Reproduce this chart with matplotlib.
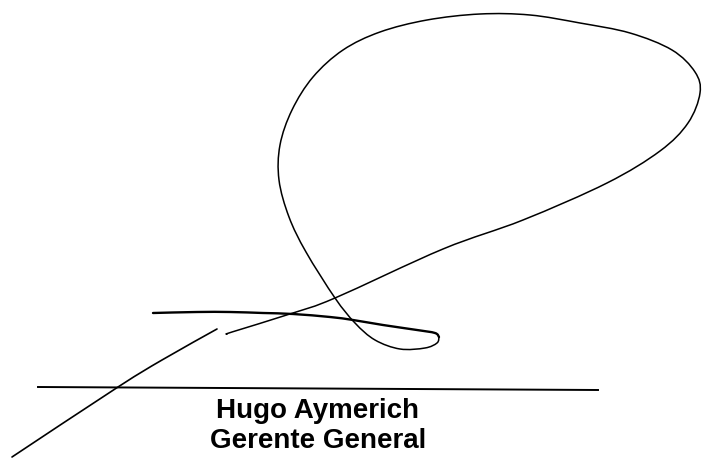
import numpy as np
import matplotlib
matplotlib.use("Agg")
import matplotlib.pyplot as plt
from matplotlib.path import Path
from matplotlib.patches import PathPatch

# signature strokes, pixel coords (x right, y down)
loop_x = [227, 232, 293, 335, 443, 523, 607, 660, 688, 700, 695, 672, 630, 580, 530, 480, 427,
          380, 343, 313, 292, 280, 279, 289, 306, 335, 355, 375, 400, 425, 437, 439]
loop_y = [334, 332, 313, 298, 249, 220, 183, 151, 123, 93, 72, 50, 33, 23, 15, 14, 20,
          32, 50, 77, 110, 145, 180, 217, 252, 298, 323, 340, 349, 348, 343, 337]
back_x = [439, 435, 417, 383, 353, 330, 293, 263, 230, 197, 153]
back_y = [337, 333, 330, 325, 320, 317, 314, 313, 312, 312, 313]
tail_x = [217, 162, 118, 12]
tail_y = [329, 360, 387, 457]

base_x = [38, 598]
base_y = [387, 390]

name = "Hugo Aymerich"
title = "Gerente General"


def smooth_path(xs, ys):
    # catmull-rom -> cubic bezier segments
    p = np.column_stack([xs, ys]).astype(float)
    p = np.vstack([p[0], p, p[-1]])
    verts = [p[1]]
    codes = [Path.MOVETO]
    for i in range(1, len(p) - 2):
        c1 = p[i] + (p[i + 1] - p[i - 1]) / 6
        c2 = p[i + 1] - (p[i + 2] - p[i]) / 6
        verts += [c1, c2, p[i + 1]]
        codes += [Path.CURVE4] * 3
    return Path(verts, codes)


fig = plt.figure(figsize=(7.03, 4.66), dpi=100)
ax = fig.add_axes([0, 0, 1, 1])
ax.set_xlim(0, 703)
ax.set_ylim(466, 0)
ax.axis("off")

ax.add_patch(PathPatch(smooth_path(loop_x, loop_y), fill=False, lw=1.1, color="black",
                       capstyle="round", joinstyle="round"))
ax.add_patch(PathPatch(smooth_path(back_x, back_y), fill=False, lw=1.7, color="black",
                       capstyle="round", joinstyle="round"))
ax.add_patch(PathPatch(smooth_path(tail_x, tail_y), fill=False, lw=1.2, color="black",
                       capstyle="round", joinstyle="round"))
ax.plot(base_x, base_y, color="black", lw=1.4)

ax.text(318, 418, name, ha="center", va="baseline", fontsize=20, fontweight="bold",
        family="Liberation Sans")
ax.text(318, 448, title, ha="center", va="baseline", fontsize=20, fontweight="bold",
        family="Liberation Sans")

fig.savefig("out.png", dpi=100)
